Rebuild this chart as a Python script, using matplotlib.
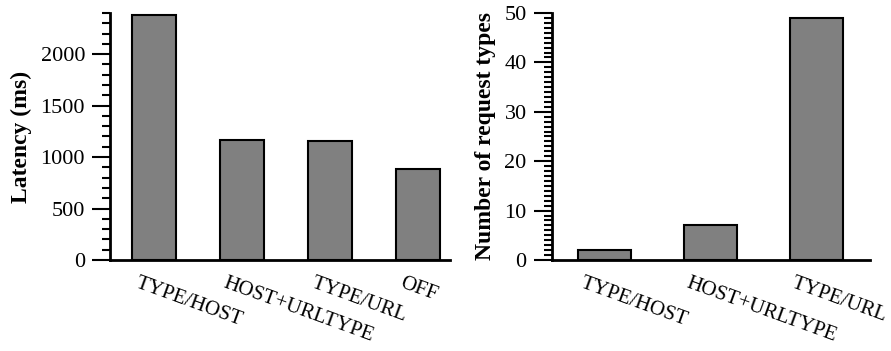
import matplotlib
matplotlib.use("Agg")
import matplotlib.pyplot as plt
import matplotlib.transforms as mtransforms
from matplotlib.ticker import MultipleLocator

# latency per configuration
lat_labels = ["TYPE/HOST", "HOST+URLTYPE", "TYPE/URL", "OFF"]
lat_values = [2385, 1165, 1155, 880]

# number of request types per configuration
req_labels = ["TYPE/HOST", "HOST+URLTYPE", "TYPE/URL"]
req_values = [2, 7, 49]

plt.rcParams["font.family"] = ["Liberation Serif", "DejaVu Serif"]
plt.rcParams["font.size"] = 16

fig = plt.figure(figsize=(8.91, 3.51), dpi=100)
ax1 = fig.add_axes([0.1235, 0.2593, 0.3816, 0.7037])
ax2 = fig.add_axes([0.6192, 0.2593, 0.3572, 0.7037])


def style(ax, labels, values, xmax, ymax, minor, ylabel, shift):
    x = range(len(values))
    ax.bar(x, values, width=0.5, color="#808080", edgecolor="black", linewidth=1.5)
    ax.set_xlim(-0.5, xmax)
    ax.set_ylim(0, ymax)
    ax.spines["top"].set_visible(False)
    ax.spines["right"].set_visible(False)
    ax.spines["left"].set_linewidth(2)
    ax.spines["bottom"].set_linewidth(2)
    ax.yaxis.set_minor_locator(MultipleLocator(minor))
    ax.tick_params(axis="y", which="major", length=13, width=1.5, pad=5)
    ax.tick_params(axis="y", which="minor", length=6, width=1.5)
    ax.tick_params(axis="x", length=0, pad=10)
    ax.set_xticks(list(x))
    ax.set_xticklabels(labels, rotation=-20, ha="left", va="top", fontsize=15)
    off = mtransforms.ScaledTranslation(shift / 100, 0, fig.dpi_scale_trans)
    for t in ax.get_xticklabels():
        t.set_transform(t.get_transform() + off)
    ax.set_ylabel(ylabel, fontweight="bold", fontsize=17, labelpad=6)


style(ax1, lat_labels, lat_values, 3.364, 2400, 100, "Latency (ms)", -21)
ax1.yaxis.set_major_locator(MultipleLocator(500))
style(ax2, req_labels, req_values, 2.507, 50, 1, "Number of request types", -27)
ax2.yaxis.set_major_locator(MultipleLocator(10))

fig.savefig("out.png", dpi=100)
